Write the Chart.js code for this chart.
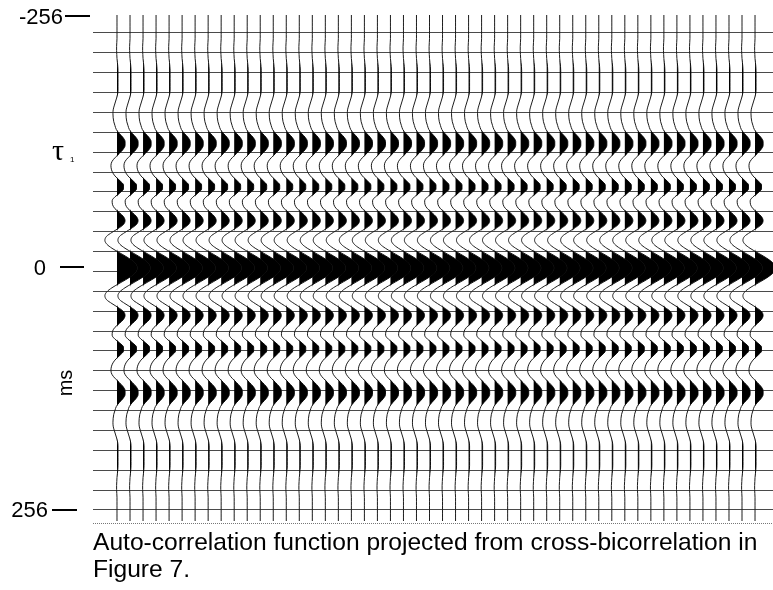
<!DOCTYPE html>
<html>
<head>
<meta charset="utf-8">
<script src="https://cdn.jsdelivr.net/npm/chart.js@4/dist/chart.umd.min.js"></script>
<style>
  html, body { margin: 0; padding: 0; background: #fff; }
  #wrap { width: 773px; height: 590px; position: relative; }
</style>
</head>
<body>
<div id="wrap"><canvas id="wiggleChart" width="773" height="590"></canvas></div>
<script>
// one side of the auto-correlation, lag 0..256 ms every 4 ms, scaled so zero lag = 1
const halfAutocorr = [
  1.00, 0.93, 0.72, 0.42, 0.08, -0.25, -0.50, -0.60, -0.52, -0.25,
  0.06, 0.32, 0.40, 0.32, 0.12, -0.10, -0.22, -0.24, -0.10, 0.14,
  0.32, 0.32, 0.16, -0.05, -0.20, -0.28, -0.30, -0.24, -0.08, 0.12,
  0.30, 0.40, 0.40, 0.30, 0.12, -0.03, -0.10, -0.16, -0.19, -0.20,
  -0.19, -0.14, -0.08, -0.02, 0.03, 0.05, 0.05, 0.05, 0.05, 0.05,
  0.05, 0.04, 0.02, 0.00, -0.01, -0.02, -0.02, -0.01, 0.00, 0.00,
  0.00, 0.00, 0.00, 0.00, 0.00
];
const lagStepMs = 4;
const traceCount = 50;          // same function repeated across the section
const tickLabels = ['-256', '0', '256'];
const axisTitle = 'ms';
const captionLines = [
  'Auto-correlation function projected from cross-bicorrelation in',
  'Figure 7.'
];

const gain = 1.55;              // trace deflection, in trace spacings
const gridStartMs = -237.8;
const gridStepMs = 20.11;

// full symmetric function from -256 to 256 ms
const maxLag = (halfAutocorr.length - 1) * lagStepMs;
const lags = [];
const autocorr = [];
for (let i = halfAutocorr.length - 1; i > 0; i--) {
  lags.push(-i * lagStepMs);
  autocorr.push(halfAutocorr[i]);
}
for (let i = 0; i < halfAutocorr.length; i++) {
  lags.push(i * lagStepMs);
  autocorr.push(halfAutocorr[i]);
}

const datasets = [];
for (let t = 0; t < traceCount; t++) {
  // positive half, filled black to the trace's own baseline
  datasets.push({
    data: lags.map((lag, i) => ({ x: t + gain * Math.max(0, autocorr[i]), y: lag })),
    fill: { value: t },
    backgroundColor: '#000',
    borderWidth: 0,
    pointRadius: 0,
    cubicInterpolationMode: 'monotone'
  });
  // the wiggle itself
  datasets.push({
    data: lags.map((lag, i) => ({ x: t + gain * autocorr[i], y: lag })),
    fill: false,
    borderColor: '#1c1c1c',
    borderWidth: 1,
    pointRadius: 0,
    cubicInterpolationMode: 'monotone'
  });
}

const annotations = {
  id: 'annotations',
  afterDraw(chart) {
    const ctx = chart.ctx;
    const area = chart.chartArea;
    ctx.save();

    // dotted base line
    ctx.strokeStyle = '#777';
    ctx.lineWidth = 1;
    ctx.setLineDash([1, 1]);
    ctx.beginPath();
    ctx.moveTo(area.left, area.bottom + 2.5);
    ctx.lineTo(area.right, area.bottom + 2.5);
    ctx.stroke();
    ctx.setLineDash([]);

    ctx.fillStyle = '#000';
    ctx.font = '22px "Liberation Sans", Arial, sans-serif';
    ctx.textAlign = 'right';
    ctx.textBaseline = 'middle';
    ctx.fillText(tickLabels[0], 63, 18);
    ctx.fillRect(65, 15, 25, 2);
    ctx.fillText(tickLabels[1], 46, 269);
    ctx.fillRect(60, 266, 24, 2);
    ctx.fillText(tickLabels[2], 48, 511);
    ctx.fillRect(52, 509, 25, 2);

    // tau with subscript
    ctx.textAlign = 'left';
    ctx.textBaseline = 'alphabetic';
    ctx.font = '30px "Liberation Serif", "DejaVu Serif", serif';
    ctx.fillText('τ', 52, 160);
    ctx.font = '8px "Liberation Sans", Arial, sans-serif';
    ctx.fillText('1', 70, 162);

    // rotated unit
    ctx.save();
    ctx.translate(66, 383);
    ctx.rotate(-Math.PI / 2);
    ctx.font = '20px "Liberation Sans", Arial, sans-serif';
    ctx.textAlign = 'center';
    ctx.textBaseline = 'middle';
    ctx.fillText(axisTitle, 0, 0);
    ctx.restore();

    // caption
    ctx.font = '24.6px "Liberation Sans", Arial, sans-serif';
    ctx.fillText(captionLines[0], 93, 550);
    ctx.fillText(captionLines[1], 93, 577);

    ctx.restore();
  }
};

new Chart(document.getElementById('wiggleChart'), {
  type: 'line',
  data: { datasets: datasets },
  options: {
    responsive: false,
    animation: false,
    events: [],
    indexAxis: 'y',
    layout: { padding: { top: 15, bottom: 69, left: 93, right: 0 } },
    plugins: {
      legend: { display: false },
      tooltip: { enabled: false }
    },
    scales: {
      x: {
        type: 'linear',
        display: false,
        min: -1.843,
        max: 50.38
      },
      y: {
        type: 'linear',
        reverse: true,
        min: -maxLag,
        max: maxLag,
        afterBuildTicks: (scale) => {
          const ticks = [];
          for (let v = gridStartMs; v < maxLag; v += gridStepMs) ticks.push({ value: v });
          scale.ticks = ticks;
        },
        ticks: { display: false },
        border: { display: false },
        grid: { color: '#4a4a4a', lineWidth: 1, drawTicks: false }
      }
    }
  },
  plugins: [annotations]
});
</script>
</body>
</html>
